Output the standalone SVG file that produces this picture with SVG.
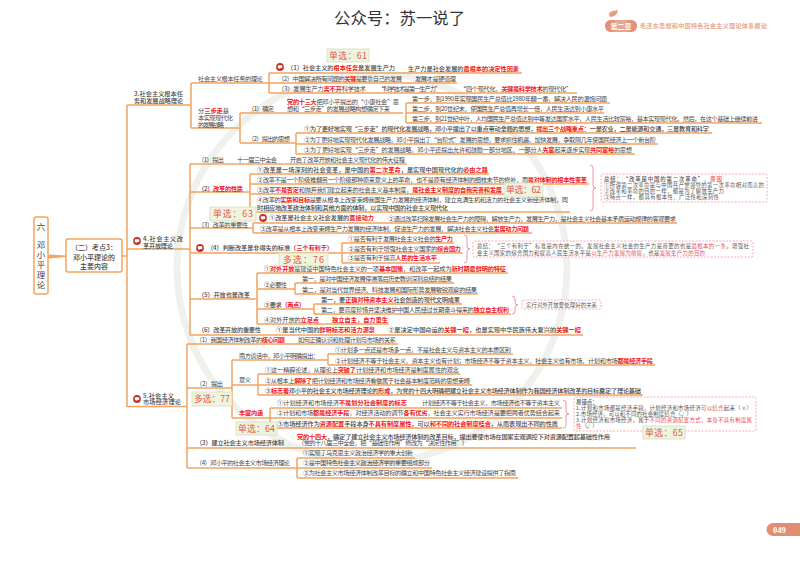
<svg xmlns="http://www.w3.org/2000/svg" width="800" height="562" viewBox="0 0 800 562">
<style>
text{font-family:"Noto Sans CJK SC","Liberation Sans",sans-serif;fill:#454545;font-size:6.2px}
.r{fill:#f01820;font-weight:700}
.b{font-weight:500}
.c{text-anchor:middle}
.k{font-size:5.4px;fill:#555}
.p{fill:#e8505a}
.sel{fill:#eff4df;stroke:#d3dfb8;stroke-width:.8}
.st{fill:#e4574c;font-size:8.8px}
.con{fill:none;stroke:#f3a45f;stroke-width:1.5}
.box{fill:#fff;stroke:#f08a94;stroke-width:.7;stroke-dasharray:2 1.4}
.br{fill:none;stroke:#f08a94;stroke-width:.9}
</style>
<defs>
<g id="ico"><circle r="3.9" fill="#c0342a"/><rect x="-2.3" y="-1.7" width="4.6" height="2.7" rx="1" fill="#fff"/><path d="M-1 1l-.6 1.3L.6 1z" fill="#fff"/></g>
</defs>
<rect width="800" height="562" fill="#fff"/>
<g id="watermark" fill="none" stroke="#f0f0ed">
<circle cx="372" cy="268" r="195" stroke-width="7"/>
<path d="M330 210q40-50 90-20t30 80-70 70-70-40 20-90z" stroke-width="2" stroke="#f8f8f6"/>
</g>
<g id="header">
<text x="334" y="23.500" style="font-size:16.4px;fill:#333">公众号：苏一说了</text>
<path d="M610 17q-3-5 3-6t5-1q-1 7-8 7z" fill="#ec9a80"/>
<rect x="605" y="20" width="32" height="12" rx="6" fill="#e9a68f"/>
<circle cx="611" cy="26" r="6" fill="#e39279"/><circle cx="631" cy="26" r="6" fill="#e39279"/>
<text x="621" y="28.500" class="c" style="font-size:7px;fill:#fff;font-weight:700">第二章</text>
<text x="640" y="28.200" textLength="127" style="font-size:6.100px;fill:#eba88f;font-weight:700">毛泽东思想和中国特色社会主义理论体系概论</text>
</g>
<g id="connectors">
<path class="con" d="M127 105V407M127 105H191M127 249H190M127 406.500H187"/>
<path class="con" d="M191 83V128M191 83H269M191 128H240M269 73V93M269 73H522M269 83H457M269 93H577"/>
<path class="con" d="M240 113V143M240 113H403M240 143H296M406 103V123M406 103H610M406 113H604M406 123H762M296 133V154M296 133H712M296 144H658M296 154H635"/>
<path class="con" d="M190 164V335M190 164H407M190 192H250M250 174V212M250 174H489M250 184H589M250 194H504M250 212H570M190 228H253M253 223V233M253 223H677M253 233H532M190 253H342M342 243V263M342 243H454M342 253H463M342 263H440M190 299H257M257 273V324M257 273H508M257 289H295M295 283V294M295 283H454M295 294H478M257 309H314M314 304V314M314 304H462M314 314H511M257 324H389M190 335H583"/>
<path class="con" d="M187 344V468M187 344H398M187 388H232M232 360V418M232 360H328M328 354V365M328 354H513M328 365H655M232 385H258M258 374V395M258 374H460M258 385H472M258 395H643M232 418H270M270 408V428M270 408H562M270 418H562M270 428H562M187 448H636M187 468H432M297 458V478M297 458H415M297 478H518"/>
<path d="M48 254.500L66 255.500V257L48 258.500z" fill="#f3a45f" stroke="none"/>
<path class="con" d="M122 256H127"/>
</g>
<g id="brackets">
<path class="br" d="M590 165q3 0 3 3V185q0 3 3 3q-3 0-3 3V208q0 3-3 3"/>
<path class="br" d="M464 235q3 0 3 3V246q0 3 3 3q-3 0-3 3V260q0 3-3 3"/>
<path class="br" d="M512 296q3 0 3 3V302q0 3 3 3q-3 0-3 3V311q0 3-3 3"/>
<path class="br" d="M563 400q3 0 3 3V411q0 3 3 3q-3 0-3 3V425q0 3-3 3"/>
</g>
<g id="n-root"><rect x="34" y="217" width="14" height="77" rx="2" fill="#fff" stroke="#f3a45f" stroke-width="1.500"/>
<text x="41" y="230" class="c" style="font-size:8.500px">六</text><text x="41" y="248" class="c" style="font-size:8.500px">邓</text><text x="41" y="258" class="c" style="font-size:8.500px">小</text><text x="41" y="268" class="c" style="font-size:8.500px">平</text><text x="41" y="278" class="c" style="font-size:8.500px">理</text><text x="41" y="288" class="c" style="font-size:8.500px">论</text></g>
<g id="n-sub"><rect x="66" y="239" width="56" height="33" rx="2" fill="#fff" stroke="#f3a45f" stroke-width="1.500"/>
<text x="94" y="250" class="c b" style="font-size:7px">（二）考点3：</text><text x="94" y="259.500" class="c b" style="font-size:7px">邓小平理论的</text><text x="94" y="268.500" class="c b" style="font-size:7px">主要内容</text></g>

<g id="n3"><text x="134" y="96" class="b" textLength="49">3.社会主义根本任</text><text x="134" y="103.200" class="b" textLength="49">务和发展战略理论</text></g>
<g id="n3a"><text x="198" y="80.500" textLength="65">社会主义根本任务的理论</text></g>
<g id="n3a1"><use href="#ico" x="280" y="67"/><text x="287" y="69.700" class="b" textLength="108">（1）社会主义的<tspan class="r">根本任务</tspan>是发展生产力</text><text x="408" y="70.500" class="b" textLength="111">生产力是社会发展的<tspan class="r">最根本的决定性因素</tspan></text></g>
<g id="n3a2"><text x="278" y="80.700" textLength="124">（2）中国解决所有问题的<tspan class="r">关键</tspan>是要靠自己的发展</text><text x="415" y="80.700" textLength="41">发展才是硬道理</text></g>
<g id="n3a3"><text x="278" y="90.700" textLength="88">（3）发展生产力<tspan class="r">离不开</tspan>科学技术</text><text x="378" y="90.700" textLength="63">“科学技术是第一生产力”</text><text x="460" y="90.700" textLength="112">“四个现代化，<tspan class="r">关键是科学技术</tspan>的现代化”</text></g>
<g id="n-s61"><rect x="327" y="49" width="42" height="13" class="sel"/><text x="329" y="58.700" class="st" textLength="38">单选：61</text></g>

<g id="n3b"><text x="198" y="113" textLength="31">分<tspan class="r">三步走</tspan>基</text><text x="198" y="120" textLength="35">本实现现代化</text><text x="198" y="126.500" textLength="26">的发展战略</text></g>
<g id="n3b1"><text x="248" y="111.200" textLength="26">（1）确定</text><text x="287" y="104.200" textLength="112"><tspan class="r">党的十三大</tspan>把邓小平提出的“小康社会”思</text><text x="287" y="111.200" textLength="103">想和“三步走”的发展战略构想确定下来</text></g>
<g id="n3b1a"><text x="412" y="101.200" textLength="195">第一步，到1990年实现国民生产总值比1980年翻一番，解决人民的温饱问题</text></g>
<g id="n3b1b"><text x="412" y="111.200" textLength="192">第二步，到20世纪末，使国民生产总值再增长一倍，人民生活达到小康水平</text></g>
<g id="n3b1c"><text x="412" y="121.200" textLength="346">第三步，到21世纪中叶，人均国民生产总值达到中等发达国家水平，人民生活比较富裕，基本实现现代化。然后，在这个基础上继续前进</text></g>
<g id="n3b2"><text x="248" y="141.200" textLength="42">（2）提出的思想</text></g>
<g id="n3b2a"><text x="304" y="131.200" class="b" textLength="405">①为了更好地实现“三步走”的现代化发展战略，邓小平提出了以重点带动全局的思想，<tspan class="r">提出三个战略重点</tspan>：一是农业，二是能源和交通，三是教育和科学</text></g>
<g id="n3b2b"><text x="304" y="141.500" textLength="352">②为了更好地实现现代化发展战略，邓小平提出了“台阶式”发展的思想，要求抓住机遇，加快发展，争取隔几年使国民经济上一个新台阶</text></g>
<g id="n3b2c"><text x="304" y="152" textLength="328">③为了更好地实现“三步走”的发展战略，邓小平还提出允许和鼓励一部分地区、一部分人<tspan class="r">先富</tspan>起来逐步实现<tspan class="r">共同富裕</tspan>的思想</text></g>

<g id="n4"><use href="#ico" x="137" y="241"/><text x="143" y="240.500" class="b" textLength="40">4.社会主义改</text><text x="143" y="247.500" class="b" textLength="30">革开放理论</text></g>
<g id="n41"><text x="198" y="161.500" textLength="26">（1）提出</text><text x="237" y="161.500" textLength="40">十一届三中全会</text><text x="290" y="161.500" textLength="115">开启了改革开放和社会主义现代化的伟大征程</text></g>
<g id="n42"><text x="198" y="190.500" class="b" textLength="45">（2）<tspan class="r">改革的性质</tspan></text></g>
<g id="n42a"><text x="257" y="171.500" class="b" textLength="231">①改革是一场深刻的社会变革，是中国的<tspan class="r">第二次革命</tspan>，是实现中国现代化的<tspan class="r">必由之路</tspan></text></g>
<g id="n42b"><text x="257" y="181.500" textLength="330">②改革不是一个阶级推翻另一个阶级那种原来意义上的革命，也不是原有经济体制的细枝末节的修补，而<tspan class="r">是对体制的根本性变革</tspan></text></g>
<g id="n42c"><text x="257" y="191.500" textLength="245">③改革<tspan class="r">不是否定</tspan>和抛弃我们建立起来的社会主义基本制度，<tspan class="r">是社会主义制度的自我完善和发展</tspan></text></g>
<g id="n42d"><text x="257" y="201.500" textLength="311">④改革的<tspan class="r">实质和目标</tspan>是要从根本上改变束缚我国生产力发展的经济体制，建立充满生机和活力的社会主义新经济体制，同</text><text x="257" y="209.500" class="b" textLength="191">时相应地改革政治体制和其他方面的体制，以实现中国的社会主义现代化</text></g>
<g id="n-s62"><rect x="504" y="183" width="39" height="14" class="sel"/><text x="506" y="193.300" class="st" textLength="35">单选：62</text></g>
<g id="n-s63"><rect x="210" y="207" width="46" height="14" class="sel"/><text x="213" y="217.300" class="st" textLength="40">单选：63</text></g>
<g id="n43"><text x="198" y="226.500" textLength="50">（3）改革的重要性</text></g>
<g id="n43a"><use href="#ico" x="263" y="218"/><text x="269" y="220.300" class="b" textLength="105">①改革是社会主义社会发展的<tspan class="r">直接动力</tspan></text><text x="388" y="221" textLength="288">②通过改革扫除发展社会生产力的障碍，解放生产力，发展生产力，是社会主义社会基本矛盾运动规律的客观要求</text></g>
<g id="n43b"><text x="260" y="231.300" textLength="269">③改革是从根本上改变束缚生产力发展的经济体制，促进生产力的发展，解决社会主义社会<tspan class="r">发展动力问题</tspan></text></g>
<g id="n44"><use href="#ico" x="200" y="248"/><text x="207" y="250.300" class="b" textLength="126">（4）判断改革是非得失的标准<tspan class="r">（三个有利于）</tspan></text></g>
<g id="n44a"><text x="348" y="241.200" textLength="105">①是否有利于发展社会主义社会的<tspan class="r">生产力</tspan></text></g>
<g id="n44b"><text x="348" y="251.200" textLength="113">②是否有利于增强社会主义国家的<tspan class="r">综合国力</tspan></text></g>
<g id="n44c"><text x="348" y="260.300" textLength="89">③是否有利于提高<tspan class="r">人民的生活水平</tspan></text></g>
<g id="n-s76"><rect x="279" y="253" width="49" height="13" class="sel"/><text x="283" y="262.800" class="st" textLength="41">多选：76</text></g>
<g id="n44n"><rect x="473" y="241" width="280" height="16" rx="1.500" class="box"/><text x="477" y="247.700" class="k" textLength="272">总结：“三个有利于”标准是内在统一的。发展社会主义社会的生产力是首要的也是<tspan class="p">最根本的一条</tspan>。增强社</text><text x="477" y="254.700" class="k" textLength="228">会主义国家的综合国力和提高人民生活水平是<tspan class="p">以生产力发展为前提</tspan>，也是<tspan class="p">发展生产力的目的</tspan></text></g>
<g id="n45"><text x="198" y="297.200" class="b" textLength="52">（5）开放也是改革</text></g>
<g id="n45a"><text x="264" y="271.200" textLength="242">①<tspan class="r">对外开放</tspan>是建设中国特色社会主义的一项<tspan class="r">基本国策</tspan>，和改革一起成为<tspan class="r">新时期最鲜明的特征</tspan></text></g>
<g id="n45b"><text x="264" y="286.800" textLength="23">②必要性</text><text x="302" y="281.200" textLength="150">第一，是对中国经济发展停滞落后历史教训深刻总结的结果</text><text x="302" y="292.200" textLength="175">第二，是对当代世界经济、科技发展和国际形势发展敏锐观察的结果</text></g>
<g id="n45c"><text x="264" y="307.200" class="b" textLength="41">③要求<tspan class="r">（两点）</tspan></text><text x="321" y="302.200" class="b" textLength="139">第一，要<tspan class="r">正确对待资本主义</tspan>社会创造的现代文明成果</text><text x="321" y="312.200" textLength="188">第二，要高度珍惜并坚决维护中国人民经过长期奋斗得来的<tspan class="r">独立自主权利</tspan></text></g>
<g id="n45d"><text x="264" y="322.200" textLength="55">④对外开放的<tspan class="r">立足点</tspan></text><text x="332" y="322.200" class="r" textLength="56">独立自主，自力更生</text></g>
<g id="n45n"><rect x="522" y="300" width="79" height="9" rx="1.500" class="box"/><text x="526" y="306.700" class="k" textLength="71">实行对外开放要处理好的关系</text></g>
<g id="n46"><text x="198" y="332.400" class="b" textLength="63">（6）改革开放的重要性</text><text x="276" y="332.400" class="b" textLength="99">①是当代中国的<tspan class="r">鲜明标志和活力源泉</tspan></text><text x="388" y="332.400" class="b" textLength="193">②是决定中国命运的<tspan class="r">关键一招</tspan>，也是实现中华民族伟大复兴的<tspan class="r">关键一招</tspan></text></g>

<g id="n5"><use href="#ico" x="137" y="399"/><text x="143" y="398.200" class="b" textLength="31">5.社会主义</text><text x="143" y="404.300" class="b" textLength="38">市场经济理论</text></g>
<g id="n51"><text x="196" y="342.300" textLength="89">（1）我国经济体制改革的<tspan class="r">核心问题</tspan></text><text x="298" y="342.300" textLength="98">如何正确认识和处理计划与市场的关系</text></g>
<g id="n52"><text x="196" y="386.300" textLength="27">（2）提出</text></g>
<g id="n52a"><text x="239" y="358.300" textLength="80">南方谈话中，邓小平明确提出：</text></g>
<g id="n52a1"><text x="335" y="352.300" textLength="176">①计划多一点还是市场多一点，不是社会主义与资本主义的本质区别</text></g>
<g id="n52a2"><text x="335" y="363.300" textLength="318">②计划经济不等于社会主义，资本主义也有计划；市场经济不等于资本主义，社会主义也有市场，计划和市场<tspan class="r">都是经济手段</tspan></text></g>
<g id="n52b"><text x="239" y="382.300" textLength="12">意义</text></g>
<g id="n52b1"><text x="265" y="372.300" textLength="194">①这一精辟论述，从理论上<tspan class="r">突破了</tspan>计划经济和市场经济是制度属性的观念</text></g>
<g id="n52b2"><text x="265" y="383.300" textLength="205">②从根本上<tspan class="r">解除了</tspan>把计划经济和市场经济看做属于社会基本制度范畴的思想束缚</text></g>
<g id="n52b3"><text x="265" y="393.300" class="b" textLength="376">③<tspan class="r">标志着</tspan>邓小平的社会主义市场经济理论的<tspan class="r">形成</tspan>，为党的十四大明确把建立社会主义市场经济体制作为我国经济体制改革的目标奠定了理论基础</text></g>
<g id="n52c"><text x="239" y="415.300" class="r" textLength="24">丰富内涵</text></g>
<g id="n52c1"><text x="277" y="405.300" textLength="130">①计划经济和市场经济<tspan class="r">不是划分社会制度的标志</tspan></text><text x="422" y="405.300" textLength="138">计划经济不等于社会主义，市场经济也不等于资本主义</text></g>
<g id="n52c2"><text x="277" y="415.300" textLength="283">②计划和市场<tspan class="r">都是经济手段</tspan>，对经济活动的调节<tspan class="r">各有优劣</tspan>，社会主义实行市场经济是要把两者优势结合起来</text></g>
<g id="n52c3"><text x="277" y="426.300" class="b" textLength="281">③市场经济作为<tspan class="r">资源配置</tspan>手段本身<tspan class="r">不具有制度属性</tspan>，可以<tspan class="r">和不同的社会制度结合</tspan>，从而表现出不同的性质</text></g>
<g id="n52n"><rect x="574" y="397" width="182" height="34" rx="1.500" class="box"/><text x="576" y="403.500" class="k b">易错点：</text><text x="576" y="409.600" class="k" textLength="176">1.计划和市场都是经济手段，计划经济和市场经济<tspan class="p">可以结合</tspan>起来（×）</text><text x="576" y="415.700" class="k" textLength="116">2.市场经济，可以和不同的社会制度结合（√）</text><text x="576" y="421.800" class="k" textLength="176">3.计划经济和市场经济，属于<tspan class="p">不同的资源配置方式，本身不具有制度属</tspan></text><text x="576" y="428" class="k"><tspan class="p">性</tspan>（√）</text></g>
<g id="n-s65"><rect x="643" y="426" width="42" height="13" class="sel"/><text x="645" y="435.800" class="st" textLength="38">单选：65</text></g>
<g id="n-s64"><rect x="236" y="422" width="41" height="13" class="sel"/><text x="238" y="431.800" class="st" textLength="37">单选：64</text></g>
<g id="n-s77"><rect x="192" y="392" width="40" height="14" class="sel"/><text x="194" y="402.300" class="st" textLength="36">多选：77</text></g>
<g id="n53"><text x="196" y="445.300" class="b" textLength="88">（3）建立社会主义市场经济体制</text><text x="297" y="439.300" class="b" textLength="313"><tspan class="r">党的十四大</tspan>，确定了建立社会主义市场经济体制的改革目标，提出要使市场在国家宏观调控下对资源配置起基础性作用</text><text x="298" y="445.300" textLength="170">（党的十八届三中全会，把“基础性作用”修改为“决定性作用”）</text></g>
<g id="n54"><text x="196" y="465.300" textLength="94">（4）邓小平的社会主义市场经济理论</text></g>
<g id="n54a"><text x="303" y="455.300" textLength="110">①实现了马克思主义政治经济学的重大创新</text></g>
<g id="n54b"><text x="303" y="465.300" textLength="127">②是中国特色社会主义政治经济学的重要组成部分</text></g>
<g id="n54c"><text x="303" y="475.300" textLength="213">③为社会主义市场经济体制改革目标的确立和中国特色社会主义经济建设提供了指南</text></g>

<g id="n42n"><rect x="601" y="174" width="166" height="28" rx="1.500" class="box"/><text x="604" y="180.500" class="k b" textLength="118">总结：“改革是中国的第二次革命”，<tspan class="p">原因</tspan></text><text x="604" y="186.600" class="k" textLength="160">①所谓第二次革命是与中国共产党领导的第一次革命相对而言的</text><text x="604" y="192.700" class="k" textLength="120">②改革和革命的目的一样，都是为了解放生产力</text><text x="604" y="198.800" class="k" textLength="115">③特点一样，都具有根本性、广泛性和深刻性</text></g>
<g id="page"><path d="M800 523H773a6.500 6.500 0 0 0 0 13H800z" fill="#e08d74"/><text x="773" y="532.500" style="font-family:'Liberation Serif',serif;font-size:8.500px;fill:#fff;font-weight:700">049</text></g>
</svg>
